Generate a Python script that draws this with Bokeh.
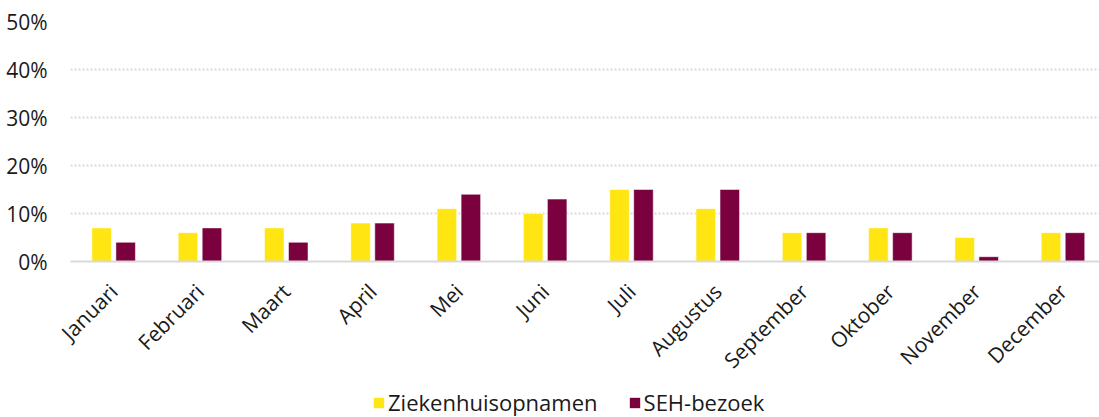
from bokeh.plotting import figure
from bokeh.models import Range1d, FixedTicker, Legend, LegendItem, ColumnDataSource
from bokeh.layouts import column
from bokeh.embed import file_html
from bokeh.resources import INLINE
import math

months = ["Januari", "Februari", "Maart", "April", "Mei", "Juni", "Juli",
          "Augustus", "September", "Oktober", "November", "December"]
ziekenhuis = [7, 6, 7, 8, 11, 10, 15, 11, 6, 7, 5, 6]
seh = [4, 7, 4, 8, 14, 13, 15, 15, 6, 6, 1, 6]
y_ticks = [0, 10, 20, 30, 40, 50]
series_names = ["Ziekenhuisopnamen", "SEH-bezoek"]

FONT = "Open Sans"
FS = "21px"
YELLOW = "#FFE512"
MAROON = "#7A003E"
TXT = "#1a1a1a"

centers = [i + 0.5 for i in range(len(months))]
off = 0.139
bw = 0.226

src = ColumnDataSource(dict(
    x1=[c - off for c in centers], x2=[c + off for c in centers],
    z=ziekenhuis, s=seh))

p = figure(width=1099, height=387, output_backend="svg", toolbar_location=None,
           x_range=Range1d(0, 11.923), y_range=Range1d(0, 50),
           min_border_left=70, min_border_right=0, min_border_top=21,
           min_border_bottom=126)
p.outline_line_color = None
p.background_fill_color = "white"

p.vbar(x="x1", top="z", width=bw, source=src, fill_color=YELLOW,
       line_color="white", line_alpha=0.5, line_width=1)
p.vbar(x="x2", top="s", width=bw, source=src, fill_color=MAROON,
       line_color="white", line_alpha=0.5, line_width=1)

# axes
p.xaxis.ticker = FixedTicker(ticks=centers)
p.xaxis.major_label_overrides = {c: m for c, m in zip(centers, months)}
p.xaxis.major_label_orientation = math.pi / 4
p.xaxis.major_tick_line_color = None
p.xaxis.minor_tick_line_color = None
p.xaxis.axis_line_color = "#D9D9D9"
p.xaxis.axis_line_width = 2
p.xaxis.major_label_text_font = FONT
p.xaxis.major_label_text_font_size = FS
p.xaxis.major_label_text_color = TXT
p.xaxis.major_label_standoff = 20

p.yaxis.ticker = FixedTicker(ticks=y_ticks)
p.yaxis.major_label_overrides = {t: f"{t}%" for t in y_ticks}
p.yaxis.axis_line_color = None
p.yaxis.major_tick_line_color = None
p.yaxis.minor_tick_line_color = None
p.yaxis.major_label_text_font = FONT
p.yaxis.major_label_text_font_size = FS
p.yaxis.major_label_text_color = TXT
p.yaxis.major_label_standoff = 17

p.xgrid.grid_line_color = None
p.ygrid.grid_line_color = "#D9D9D9"
p.ygrid.grid_line_width = 2
p.ygrid.grid_line_dash = "2 2"

# legend strip: same data renderers, drawn outside the visible range
lf = figure(width=1099, height=30, output_backend="svg", toolbar_location=None,
            x_range=Range1d(100, 101), y_range=Range1d(100, 101),
            x_axis_location=None, y_axis_location=None,
            min_border=0, min_border_left=70, min_border_right=0,
            min_border_top=0, min_border_bottom=0)
lf.outline_line_color = None
lf.xgrid.grid_line_color = None
lf.ygrid.grid_line_color = None
lr1 = lf.vbar(x="x1", top="z", width=bw, source=src, fill_color=YELLOW, line_color=None)
lr2 = lf.vbar(x="x2", top="s", width=bw, source=src, fill_color=MAROON, line_color=None)

legend = Legend(items=[LegendItem(label=series_names[0], renderers=[lr1]),
                       LegendItem(label=series_names[1], renderers=[lr2])],
                orientation="horizontal", location=(302, 0),
                padding=0, margin=0, spacing=30, label_standoff=3,
                glyph_width=13, glyph_height=13, label_height=20,
                label_text_font=FONT, label_text_font_size="22px",
                label_text_color=TXT,
                border_line_color=None, background_fill_alpha=0)
lf.add_layout(legend, "center")

open("out.html", "w").write(file_html(column(p, lf, spacing=0), INLINE))
